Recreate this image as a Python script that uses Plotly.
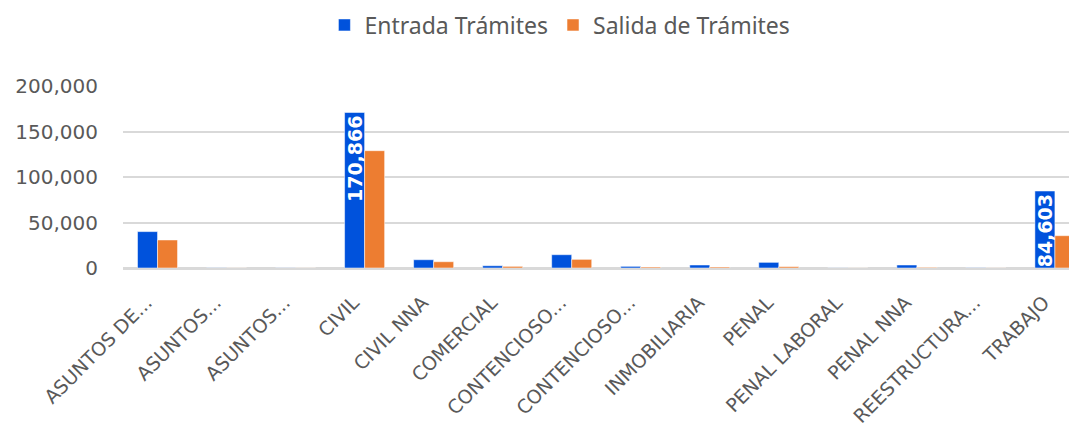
import plotly.graph_objects as go

categories = ["ASUNTOS DE...", "ASUNTOS...", "ASUNTOS...", "CIVIL", "CIVIL NNA", "COMERCIAL",
              "CONTENCIOSO...", "CONTENCIOSO...", "INMOBILIARIA", "PENAL", "PENAL LABORAL",
              "PENAL NNA", "REESTRUCTURA...", "TRABAJO"]
entrada = [40000, 150, 120, 170866, 9100, 2500, 14600, 1800, 3300, 6200, 100, 3300, 200, 84603]
salida = [30800, 90, 80, 128900, 6900, 1800, 9500, 1100, 1100, 1500, 60, 700, 100, 35500]
y_ticks = [0, 50000, 100000, 150000, 200000]

x_idx = list(range(len(categories)))
labels_entrada = [f"{v:,}" if v > 50000 else "" for v in entrada]

BLUE = "#0052DC"
ORANGE = "#ED7D31"
GREY = "#595959"

fig = go.Figure()
fig.add_trace(go.Bar(
    x=x_idx, y=entrada, name="Entrada Trámites",
    marker=dict(color=BLUE, line=dict(color="rgba(255,255,255,0.5)", width=1)),
    text=labels_entrada, textposition="inside", insidetextanchor="end",
    textangle=-90, constraintext="none",
    insidetextfont=dict(family="DejaVu Sans", size=19, color="white", weight="bold"),
))
fig.add_trace(go.Bar(
    x=x_idx, y=salida, name="Salida de Trámites",
    marker=dict(color=ORANGE, line=dict(color="rgba(255,255,255,0.5)", width=1)),
))

fig.update_layout(
    width=1077, height=436,
    margin=dict(l=115, r=8, t=78, b=176, autoexpand=False),
    paper_bgcolor="white", plot_bgcolor="white",
    barmode="group", bargap=0.42, bargroupgap=0,
    showlegend=True,
    legend=dict(orientation="h", x=0.458, xanchor="center",
                yref="container", y=1 - 17 / 436, yanchor="middle",
                font=dict(family="Noto Sans", size=23, color=GREY),
                itemwidth=30, traceorder="normal"),
    font=dict(family="DejaVu Sans", color=GREY),
)
fig.update_xaxes(
    range=[-0.5, 13.32], tickmode="array", tickvals=x_idx, ticktext=categories,
    tickangle=-45, tickfont=dict(family="DejaVu Sans", size=19, color=GREY),
    ticklabelstandoff=14, ticklabelshift=-11, automargin=False,
    showgrid=False, showline=True, linecolor="#D9D9D9", linewidth=2, ticks="",
)
fig.update_yaxes(
    range=[0, 200000], tickmode="array", tickvals=y_ticks,
    ticktext=[f"{v:,}" for v in y_ticks],
    tickfont=dict(family="DejaVu Sans", size=20, color=GREY),
    showgrid=True, gridcolor="#D9D9D9", gridwidth=2, automargin=False,
    zeroline=True, zerolinecolor="#D9D9D9", zerolinewidth=2,
    ticklabelstandoff=24,
)

fig.write_html("out.html")
